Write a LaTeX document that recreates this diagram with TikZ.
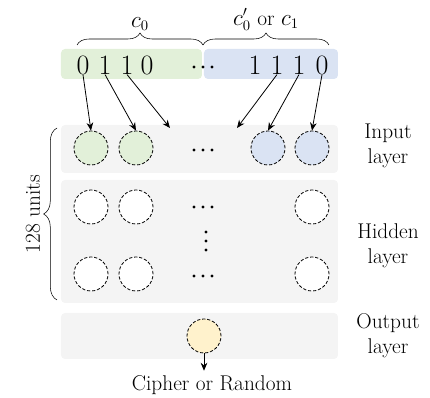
\documentclass[tikz,border=0pt]{standalone}
\usepackage{amsmath}
\usetikzlibrary{arrows.meta,decorations.pathreplacing}

\definecolor{bitgreen}{RGB}{226,240,217}
\definecolor{bitblue}{RGB}{218,227,243}
\definecolor{outyellow}{RGB}{255,242,204}
\definecolor{layergray}{RGB}{244,244,244}

\tikzset{
  unit/.style={circle, draw, fill=white, dash pattern=on 2.4pt off 1.4pt, line width=0.6pt, minimum size=25.5pt, inner sep=0pt},
  layerbg/.style={fill=layergray, rounded corners=3pt},
  bit/.style={inner sep=0pt, font=\fontsize{21}{24}\selectfont},
  lbl/.style={align=center, font=\fontsize{16}{19}\selectfont},
  feed/.style={-{Stealth[length=6pt,width=5pt]}, semithick},
  dot/.style={circle, fill, inner sep=0pt, minimum size=2.6pt},
}

\begin{document}
\begin{tikzpicture}[x=0.75pt, y=-0.75pt, >=stealth]
    \useasboundingbox (0,0) rectangle (430,398);

    % ciphertext pair
    \fill[bitgreen, rounded corners=3pt] (61,49) rectangle (202,79);
    \fill[bitblue, rounded corners=3pt] (204,49) rectangle (338,79);
    \node[bit] (a1) at (83,65) {0};
    \node[bit] (a2) at (105,65) {1};
    \node[bit] (a3) at (127,65) {1};
    \node[bit] (a4) at (147,65) {0};
    \node[bit] (b1) at (255,65) {1};
    \node[bit] (b2) at (277,65) {1};
    \node[bit] (b3) at (299,65) {1};
    \node[bit] (b4) at (322,65) {0};
    \foreach \x in {194,203,212}
        \node[dot] at (\x,67) {};

    \draw[decorate, decoration={brace, amplitude=9pt}] (77,45) -- (203,45)
        node[midway, above=7pt, lbl] (c0) {$c_0$};
    \draw[decorate, decoration={brace, amplitude=9pt}] (203,45) -- (329,45)
        node[midway, above=7pt, lbl] (c1) {$c'_0$ or $c_1$};

    % layers
    \fill[layerbg] (61,125) rectangle (338,173);
    \fill[layerbg] (61,180) rectangle (338,303);
    \fill[layerbg] (61,313) rectangle (338,359);

    \node[unit, fill=bitgreen] (in1) at (91,148) {};
    \node[unit, fill=bitgreen] (in2) at (136,148) {};
    \node[unit, fill=bitblue] (in3) at (268,148) {};
    \node[unit, fill=bitblue] (in4) at (312,148) {};

    \node[unit] (h1) at (91,207) {};
    \node[unit] (h2) at (136,207) {};
    \node[unit] (h3) at (312,207) {};
    \node[unit] (h4) at (91,274) {};
    \node[unit] (h5) at (136,274) {};
    \node[unit] (h6) at (312,274) {};

    % ellipses between units
    \foreach \y in {150,207,276}
        \foreach \x in {194,203,212}
            \node[dot] at (\x,\y) {};
    \foreach \y in {232,241,250}
        \node[dot] at (206,\y) {};

    \node[unit, fill=outyellow] (out) at (204,336) {};

    % bits to input units
    \coordinate (free1) at (170,128);
    \coordinate (free2) at (237,128);
    \draw[feed] (a1.south) -- (in1.north);
    \draw[feed] (a2.south) -- (in2.north);
    \draw[feed] (a3.south) -- (free1);
    \draw[feed] (b2.south) -- (free2);
    \draw[feed] (b3.south) -- (in3.north);
    \draw[feed] (b4.south) -- (in4.north);

    \node[lbl] (result) at (212,385) {Cipher or Random};
    \draw[feed] (out.south) -- (result.north -| out.south);

    \node[lbl] (inlbl) at (388,146) {Input\\layer};
    \node[lbl] (hidlbl) at (388,246) {Hidden\\layer};
    \node[lbl] (outlbl) at (388,336) {Output\\layer};

    \draw[decorate, decoration={brace, amplitude=10pt}] (57,300) -- (57,128)
        node[midway, left=9pt, lbl, rotate=90, anchor=south] (units) {128 units};
\end{tikzpicture}
\end{document}
